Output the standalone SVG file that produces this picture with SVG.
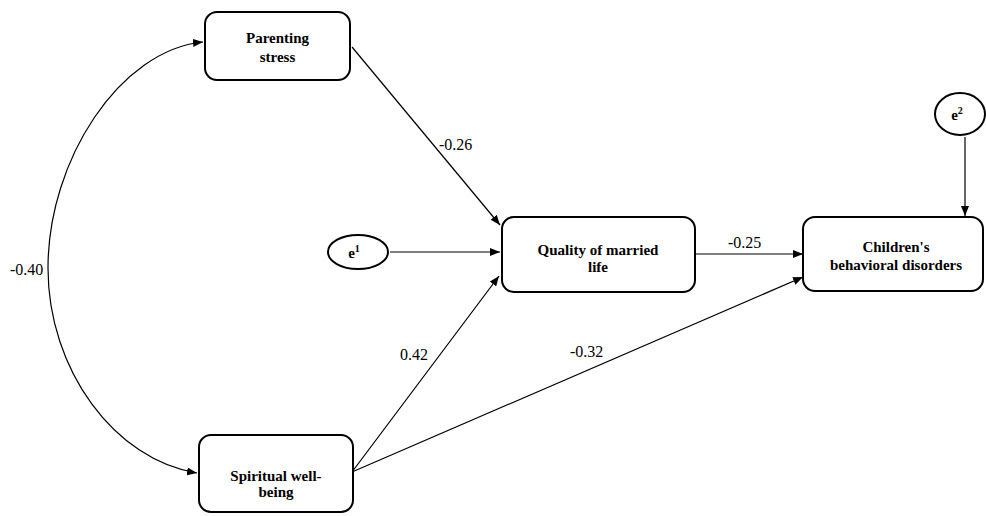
<svg xmlns="http://www.w3.org/2000/svg" width="986" height="516" viewBox="0 0 986 516">
<style>
.box{fill:#fff;stroke:#000;stroke-width:2}
.lbl{font-weight:bold;font-size:15px;text-anchor:middle;fill:#000}
.num{font-size:16px;fill:#000}
.edge{fill:none;stroke:#000;stroke-width:1.2;marker-end:url(#arr)}
</style>
<defs>
<marker id="arr" viewBox="0 0 10 8" refX="10" refY="4" markerWidth="10" markerHeight="8" markerUnits="userSpaceOnUse" orient="auto">
<path d="M0,0 L10,4 L0,8 Z" fill="#000"/>
</marker>
</defs>
<rect width="986" height="516" fill="#fff"/>
<g font-family="Liberation Serif, DejaVu Serif, serif">
<g id="connectors">
<path class="edge" d="M48,268 C48,160 120,50 203,42"/>
<path class="edge" d="M48,268 C48,370 115,460 197,473"/>
<line class="edge" x1="352" y1="47" x2="500" y2="225"/>
<line class="edge" x1="390" y1="252" x2="500" y2="252"/>
<line class="edge" x1="352" y1="472" x2="499" y2="276"/>
<line class="edge" x1="352" y1="472" x2="803" y2="277"/>
<line class="edge" x1="695" y1="254" x2="803" y2="254"/>
<line class="edge" x1="965" y1="137" x2="965" y2="216"/>
<text class="num" x="10" y="275">-0.40</text>
<text class="num" x="439" y="150">-0.26</text>
<text class="num" x="400" y="360">0.42</text>
<text class="num" x="570" y="357">-0.32</text>
<text class="num" x="728" y="248">-0.25</text>
</g>
<g id="parenting-stress">
<rect class="box" x="205" y="12" width="145" height="68" rx="12"/>
<text class="lbl" x="277.5" y="43">Parenting</text>
<text class="lbl" x="277.5" y="62">stress</text>
</g>
<g id="e1">
<ellipse class="box" cx="358" cy="252" rx="30" ry="17"/>
<text class="lbl" x="354" y="258">e<tspan dy="-6" font-size="10">1</tspan></text>
</g>
<g id="quality">
<rect class="box" x="502" y="217" width="193" height="75" rx="12"/>
<text class="lbl" x="598" y="255">Quality of married</text>
<text class="lbl" x="598" y="272">life</text>
</g>
<g id="e2">
<ellipse class="box" cx="960" cy="114" rx="25" ry="21"/>
<text class="lbl" x="957" y="120">e<tspan dy="-6" font-size="10">2</tspan></text>
</g>
<g id="children">
<rect class="box" x="803" y="217" width="180" height="74" rx="12"/>
<text class="lbl" x="896" y="252">Children's</text>
<text class="lbl" x="896" y="270">behavioral disorders</text>
</g>
<g id="spiritual">
<rect class="box" x="199" y="435" width="154" height="77" rx="12"/>
<text class="lbl" x="276" y="481">Spiritual well-</text>
<text class="lbl" x="276" y="497">being</text>
</g>
</g>
</svg>
